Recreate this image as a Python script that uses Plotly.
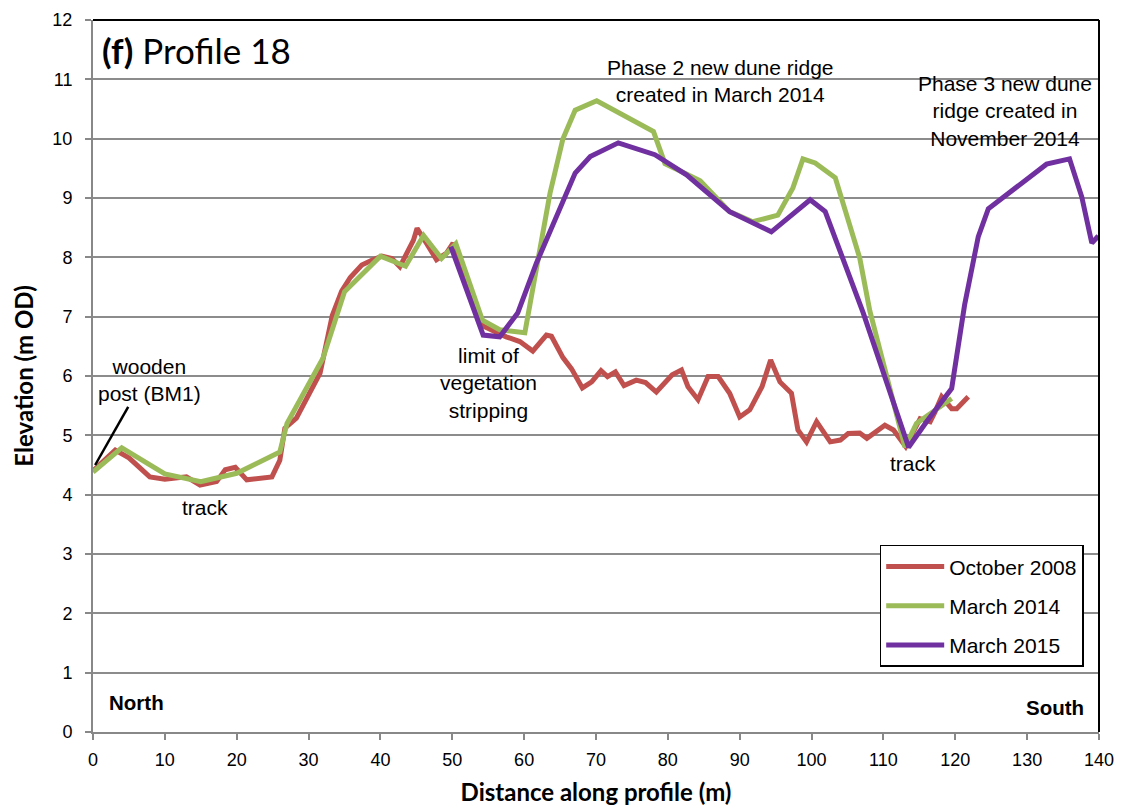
import plotly.graph_objects as go

# ---------------- data ----------------
oct2008_x = [0, 3.1, 5, 7.9, 10.0, 13.0, 14.9, 17.2, 18.4, 19.8, 21.4, 23.2, 24.9, 26.0, 26.7,
             28.3, 30.2, 31.6, 33.3, 34.6, 35.8, 37.4, 38.8, 40.2, 41.6, 42.7, 44.6, 45.1, 46.4,
             47.8, 49.2, 50.1, 51.5, 54.2, 57.5, 59.4, 61.2, 63.1, 63.8, 65.4, 66.6, 68.1, 69.4,
             70.7, 71.6, 72.7, 73.9, 75.6, 76.9, 78.4, 80.6, 81.9, 82.8, 84.2, 85.6, 87.0, 88.6,
             90.0, 91.4, 93.1, 94.3, 95.6, 97.2, 98.1, 99.3, 100.7, 102.6, 104.0, 105.1, 106.7,
             107.7, 110.2, 111.4, 113.1, 115.1, 116.5, 117.2, 118.1, 119.5, 120.2, 121.8]
oct2008_y = [4.40, 4.75, 4.62, 4.30, 4.26, 4.30, 4.16, 4.22, 4.42, 4.46, 4.25, 4.28, 4.30, 4.58, 5.12,
             5.29, 5.71, 6.05, 7.02, 7.43, 7.66, 7.87, 7.95, 8.02, 7.98, 7.84, 8.29, 8.49, 8.24,
             7.96, 8.07, 8.24, 7.73, 6.85, 6.66, 6.58, 6.42, 6.69, 6.67, 6.31, 6.12, 5.80, 5.90,
             6.09, 5.99, 6.07, 5.84, 5.93, 5.89, 5.73, 6.02, 6.10, 5.82, 5.60, 5.99, 5.99, 5.71,
             5.31, 5.43, 5.82, 6.27, 5.90, 5.71, 5.09, 4.89, 5.23, 4.89, 4.92, 5.03, 5.04,
             4.95, 5.17, 5.09, 4.81, 5.28, 5.23, 5.40, 5.65, 5.45, 5.45, 5.65]

mar2014_x = [0, 4.0, 10.0, 15.0, 20.0, 26.0, 27.0, 32.0, 35.0, 40.0, 43.5, 46.0, 48.5, 50.5,
             54.2, 56.6, 60.1, 63.6, 65.4, 67.1, 70.1, 78.0, 79.6, 84.5, 88.6, 91.8, 95.3, 97.4,
             98.8, 100.5, 103.3, 106.7, 108.1, 113.0, 114.6, 119.5]
mar2014_y = [4.38, 4.79, 4.35, 4.22, 4.36, 4.72, 5.20, 6.30, 7.42, 8.02, 7.85, 8.37, 7.98, 8.23,
             6.94, 6.78, 6.73, 9.08, 10.00, 10.48, 10.64, 10.12, 9.58, 9.29, 8.77, 8.60, 8.71, 9.17,
             9.66, 9.59, 9.34, 7.99, 7.10, 4.80, 5.20, 5.62]

mar2015_x = [49.8, 54.3, 56.6, 59.1, 61.7, 67.1, 69.2, 73.1, 78.2, 82.6, 88.6, 94.4, 99.8,
             101.9, 107.2, 109.1, 113.5, 116.0, 119.5, 121.3, 123.2, 124.6, 132.7, 135.9,
             137.6, 139.0, 139.9]
mar2015_y = [8.18, 6.69, 6.66, 7.06, 7.90, 9.42, 9.70, 9.93, 9.73, 9.39, 8.77, 8.43, 8.97,
             8.77, 7.06, 6.38, 4.80, 5.23, 5.79, 7.20, 8.35, 8.82, 9.57, 9.66,
             9.02, 8.24, 8.36]

series_names = ["October 2008", "March 2014", "March 2015"]
series_colors = ["#C0504D", "#9BBB59", "#7030A0"]

x_ticks = list(range(0, 141, 10))
y_ticks = list(range(0, 13, 1))

# ---------------- figure ----------------
fig = go.Figure()
for i, (xs, ys) in enumerate([(oct2008_x, oct2008_y), (mar2014_x, mar2014_y), (mar2015_x, mar2015_y)]):
    fig.add_trace(go.Scatter(
        x=xs, y=ys, mode="lines", name=series_names[i],
        line=dict(color=series_colors[i], width=5),
        legendgroup=series_names[i],
    ))

# pointer line for wooden post
fig.add_trace(go.Scatter(x=[0.3, 4.9], y=[4.5, 5.48], mode="lines",
                         line=dict(color="black", width=2.5), showlegend=False,
                         hoverinfo="skip"))

ARIAL = "Liberation Sans, Arial, sans-serif"
CALIBRI = "Lato, Open Sans, sans-serif"
txt_font = dict(family=ARIAL, size=21, color="black")
bold_font = dict(family=ARIAL, size=20.5, color="black")

annotations = [
    dict(x=1.0, y=11.5, xanchor="left", yanchor="middle",
         text="<b>(f)</b> Profile 18",
         font=dict(family=CALIBRI, size=35, color="black")),
    dict(x=7.9, y=5.93, text="wooden<br>post (BM1)", font=txt_font),
    dict(x=15.6, y=3.79, text="track", font=txt_font),
    dict(x=55.0, y=5.88, text="limit of<br>vegetation<br>stripping", font=txt_font),
    dict(x=87.3, y=10.97, text="Phase 2 new dune ridge<br>created in March 2014", font=txt_font),
    dict(x=126.9, y=10.47, text="Phase 3 new dune<br>ridge created in<br>November 2014", font=txt_font),
    dict(x=114.1, y=4.52, text="track", font=txt_font),
    dict(x=6.1, y=0.5, text="<b>North</b>", font=bold_font),
    dict(x=133.9, y=0.42, text="<b>South</b>", font=bold_font),
]
for a in annotations:
    a.setdefault("xanchor", "center")
    a.setdefault("yanchor", "middle")
    a["showarrow"] = False
    a["xref"] = "x"
    a["yref"] = "y"
fig.update_layout(annotations=annotations)

fig.update_layout(
    width=1124, height=808,
    margin=dict(l=93, r=25, t=20, b=76, autoexpand=False),
    plot_bgcolor="white", paper_bgcolor="white",
    showlegend=True,
    legend=dict(
        x=0.782, y=0.263, xanchor="left", yanchor="top",
        bgcolor="white", bordercolor="black", borderwidth=1.5,
        font=dict(family=ARIAL, size=21, color="black"),
        tracegroupgap=9, traceorder="grouped",
        itemwidth=58,
    ),
    shapes=[
        dict(type="line", xref="paper", yref="paper", x0=0, x1=1, y0=1, y1=1,
             line=dict(color="black", width=2)),
        dict(type="line", xref="paper", yref="paper", x0=1, x1=1, y0=0, y1=1,
             line=dict(color="black", width=2)),
    ],
)

fig.update_xaxes(
    range=[0, 140], tickvals=x_ticks, ticktext=[str(v) for v in x_ticks],
    showgrid=False, zeroline=False, automargin=False,
    showline=True, linecolor="#888888", linewidth=2,
    ticks="outside", ticklen=6, tickcolor="#888888", tickwidth=1.5,
    ticklabelstandoff=4,
    tickfont=dict(family=ARIAL, size=18, color="black"),
    title=dict(text="<b>Distance along profile (m)</b>", standoff=16,
               font=dict(family=CALIBRI, size=24, color="black")),
)
fig.update_yaxes(
    range=[0, 12], tickvals=y_ticks, ticktext=[str(v) for v in y_ticks],
    showgrid=True, gridcolor="#8c8c8c", gridwidth=1.5, zeroline=False, automargin=False,
    showline=True, linecolor="#888888", linewidth=2,
    ticks="outside", ticklen=6, tickcolor="#888888", tickwidth=1.5,
    ticklabelstandoff=9,
    tickfont=dict(family=ARIAL, size=18, color="black"),
    title=dict(text="<b>Elevation (m OD)</b>", standoff=12,
               font=dict(family=CALIBRI, size=24, color="black")),
)

fig.write_html("out.html", config={"displayModeBar": False},
               post_script="document.body.style.margin='0';document.body.style.overflow='hidden';")
